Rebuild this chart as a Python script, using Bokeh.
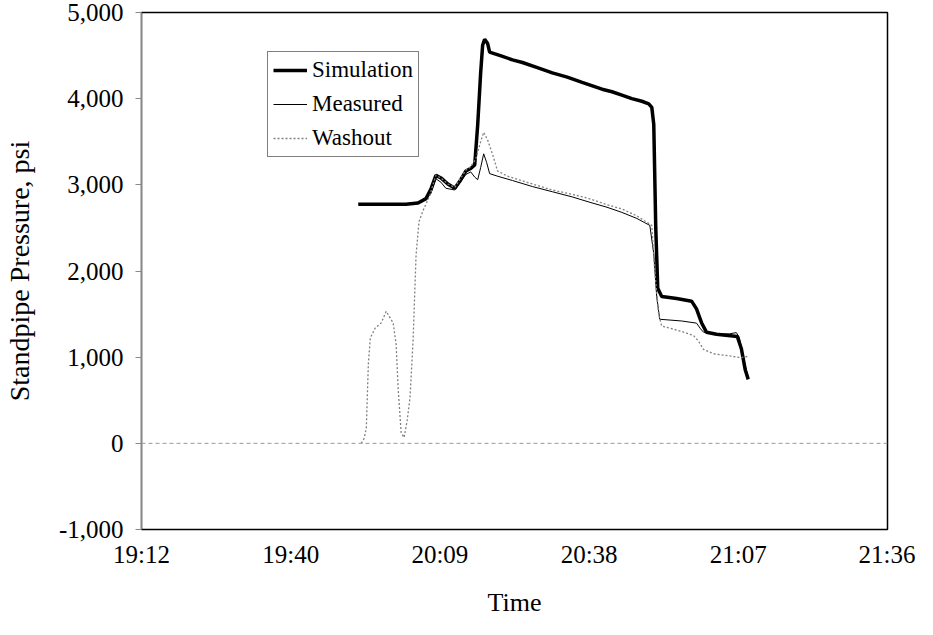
from bokeh.plotting import figure
from bokeh.models import Range1d, FixedTicker, NumeralTickFormatter, Span, Legend, LegendItem
from bokeh.embed import file_html
from bokeh.resources import INLINE

# ---- data ----
x_ticks_days = [0.80, 0.82, 0.84, 0.86, 0.88, 0.90]
x_tick_labels = ["19:12", "19:40", "20:09", "20:38", "21:07", "21:36"]
y_ticks = [-1000, 0, 1000, 2000, 3000, 4000, 5000]

sim_time = ["19:53:51", "20:03:04", "20:05:23", "20:06:55", "20:07:52", "20:08:50", "20:09:48",
            "20:11:08", "20:12:29", "20:13:38", "20:14:36", "20:15:33", "20:16:19", "20:16:54",
            "20:17:28", "20:17:51", "20:18:14", "20:18:49", "20:19:12", "20:21:42", "20:23:37",
            "20:25:32", "20:28:25", "20:31:18", "20:34:11", "20:37:03", "20:40:54", "20:42:49",
            "20:44:44", "20:46:39", "20:48:35", "20:49:55", "20:50:30", "20:50:53", "20:51:16",
            "20:51:39", "20:52:25", "20:55:18", "20:58:11", "20:59:08", "21:00:06", "21:01:03",
            "21:02:59", "21:07:00", "21:07:47", "21:08:33", "21:09:07"]
sim_psi = [2775, 2775, 2790, 2840, 2950, 3110, 3080,
           3010, 2960, 3060, 3160, 3190, 3230, 3700,
           4300, 4620, 4690, 4640, 4540, 4490, 4450,
           4420, 4360, 4300, 4250, 4190, 4110, 4080,
           4040, 4000, 3970, 3940, 3900, 3700, 2500,
           1800, 1705, 1680, 1650, 1560, 1400, 1290,
           1265, 1240, 1100, 850, 742]

meas_time = ["19:53:51", "20:03:04", "20:05:23", "20:06:55", "20:07:52", "20:08:50", "20:09:48",
             "20:10:45", "20:12:29", "20:13:38", "20:14:36", "20:15:33", "20:16:19", "20:16:54",
             "20:17:28", "20:18:03", "20:18:37", "20:19:12", "20:20:44", "20:23:37", "20:27:27",
             "20:31:18", "20:35:08", "20:38:24", "20:41:51", "20:44:44", "20:47:37", "20:49:09",
             "20:50:07", "20:50:53", "20:51:27", "20:52:02", "20:56:15", "20:59:08", "20:59:54",
             "21:00:29", "21:02:59", "21:05:28", "21:06:49", "21:07:24", "21:08:10", "21:09:07"]
meas_psi = [2780, 2780, 2800, 2830, 2900, 3070, 3030,
            2960, 2940, 3040, 3120, 3150, 3090, 3060,
            3200, 3360, 3260, 3130, 3100, 3050, 2980,
            2920, 2860, 2800, 2740, 2680, 2610, 2560,
            2530, 2200, 1700, 1440, 1420, 1395, 1330,
            1290, 1270, 1270, 1285, 1230, 1000, 760]

wash_time = ["19:54:26", "19:55:00", "19:55:24", "19:55:47", "19:56:10", "19:57:07", "19:58:16",
             "19:59:14", "20:00:35", "20:01:09", "20:01:32", "20:02:07", "20:02:41", "20:03:16",
             "20:03:50", "20:04:25", "20:05:00", "20:05:34", "20:06:20", "20:07:41", "20:08:15",
             "20:08:50", "20:09:48", "20:11:08", "20:12:29", "20:13:38", "20:14:36", "20:15:33",
             "20:16:31", "20:17:28", "20:18:03", "20:18:49", "20:19:47", "20:20:44", "20:22:39",
             "20:27:27", "20:31:18", "20:35:08", "20:38:24", "20:41:51", "20:44:44", "20:47:37",
             "20:49:09", "20:50:30", "20:51:04", "20:51:50", "20:52:25", "20:56:15", "20:58:34",
             "20:59:31", "21:00:29", "21:02:24", "21:07:47", "21:09:07"]
wash_psi = [0, 60, 183, 915, 1223, 1339, 1397,
            1532, 1397, 1147, 645, 125, 67, 260,
            530, 1185, 2187, 2572, 2700, 2880, 3000,
            3110, 3080, 3010, 2970, 3080, 3170, 3210,
            3300, 3500, 3610, 3520, 3350, 3160, 3100,
            3010, 2940, 2890, 2840, 2770, 2720, 2640,
            2580, 2530, 2000, 1500, 1360, 1300, 1250,
            1185, 1090, 1040, 995, 1010]


def to_days(ts):
    out = []
    for t in ts:
        h, m, s = (int(v) for v in t.split(":"))
        out.append((h * 3600 + m * 60 + s) / 86400.0)
    return out


FONT = "Liberation Serif"

p = figure(width=915, height=619, output_backend="svg", toolbar_location=None,
           x_range=Range1d(0.80, 0.90), y_range=Range1d(-1000, 5000),
           min_border_left=139, min_border_right=28, min_border_top=12, min_border_bottom=88)

p.grid.visible = False
p.outline_line_color = "black"
p.outline_line_width = 1.5
p.background_fill_color = "white"
p.border_fill_color = "white"

# zero line (category axis crossing at 0)
p.add_layout(Span(location=0, dimension="width", line_color="#999999",
                  line_width=1, line_dash="4 3"))

r_sim = p.line(to_days(sim_time), sim_psi, line_color="black", line_width=3.5)
r_meas = p.line(to_days(meas_time), meas_psi, line_color="black", line_width=1)
r_wash = p.line(to_days(wash_time), wash_psi, line_color="#808080", line_width=1.3, line_dash="2 2")

# axes
xa = p.xaxis[0]
xa.ticker = FixedTicker(ticks=x_ticks_days)
xa.major_label_overrides = {v: l for v, l in zip(x_ticks_days, x_tick_labels)}
xa.axis_line_color = None
xa.major_tick_line_color = None
xa.major_tick_out = 0
xa.major_tick_in = 0
xa.minor_tick_line_color = None
xa.minor_tick_out = 0
xa.major_label_standoff = 11
xa.axis_label = "Time"
xa.axis_label_standoff = 17
xa.major_label_text_font_size = "25px"
xa.axis_label_text_font_size = "26px"

ya = p.yaxis[0]
ya.ticker = FixedTicker(ticks=y_ticks)
ya.formatter = NumeralTickFormatter(format="0,0")
ya.axis_line_color = "#888888"
ya.major_tick_line_color = "#888888"
ya.major_tick_out = 6
ya.major_tick_in = 0
ya.minor_tick_line_color = None
ya.major_label_standoff = 12
ya.axis_label = "Standpipe Pressure, psi"
ya.axis_label_standoff = 21
ya.major_label_text_font_size = "25px"
ya.axis_label_text_font_size = "28px"

for ax in (xa, ya):
    ax.major_label_text_font = FONT
    ax.major_label_text_color = "black"
    ax.axis_label_text_font = FONT
    ax.axis_label_text_font_style = "normal"
    ax.axis_label_text_color = "black"

legend = Legend(items=[LegendItem(label="Simulation", renderers=[r_sim]),
                       LegendItem(label="Measured", renderers=[r_meas]),
                       LegendItem(label="Washout", renderers=[r_wash])],
                location=(126, 372))
legend.label_text_font = FONT
legend.label_text_font_size = "23px"
legend.label_text_color = "black"
legend.glyph_width = 34
legend.glyph_height = 20
legend.label_standoff = 5
legend.spacing = 8
legend.padding = 5
legend.margin = 0
legend.border_line_color = "black"
legend.border_line_width = 1
legend.background_fill_alpha = 1
p.add_layout(legend)

open("out.html", "w").write(file_html(p, INLINE))
